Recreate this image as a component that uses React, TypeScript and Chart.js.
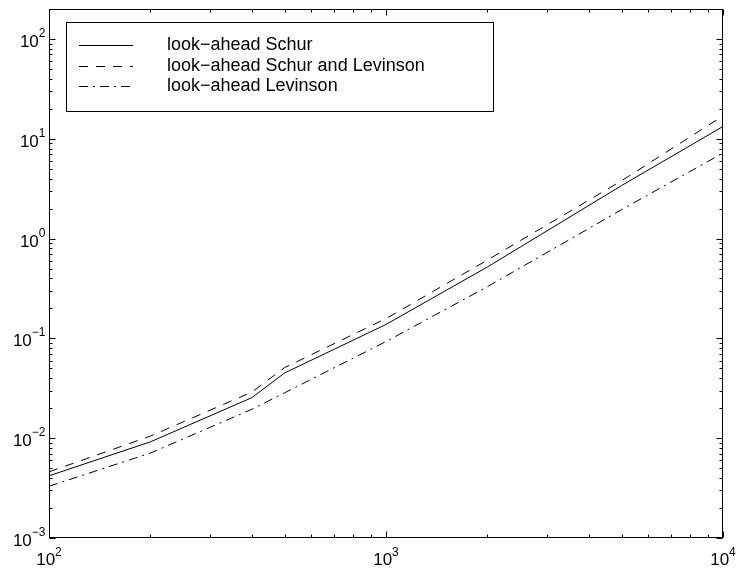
import React, { useEffect, useRef } from "react";
import { Chart, registerables } from "chart.js";

Chart.register(...registerables);

const sizes = [100, 200, 400, 500, 1000, 2000, 5000, 10000];
const schur = [0.0042, 0.0092, 0.0255, 0.045, 0.138, 0.52, 3.4, 13.3];
const schurLevinson = [0.0046, 0.0105, 0.029, 0.051, 0.158, 0.61, 3.8, 17];
const levinson = [0.0033, 0.0071, 0.0195, 0.0285, 0.093, 0.33, 1.95, 7.2];
const seriesNames = ["look\u2212ahead Schur", "look\u2212ahead Schur and Levinson", "look\u2212ahead Levinson"];
const xDecades = [2, 3, 4];
const yDecades = [-3, -2, -1, 0, 1, 2];

const FONT = '"Liberation Sans", Arial, Helvetica, sans-serif';

const matlabPlugin = {
  id: "matlabAxes",
  afterDraw(chart: any) {
    const ctx = chart.ctx as CanvasRenderingContext2D;
    const area = chart.chartArea;
    const xs = chart.scales.x;
    const ys = chart.scales.y;
    const L = Math.round(area.left) + 0.5;
    const R = Math.round(area.right) - 0.5;
    const T = Math.round(area.top) + 0.5;
    const B = Math.round(area.bottom) - 0.5;
    ctx.save();
    ctx.strokeStyle = "#000";
    ctx.lineWidth = 1;
    ctx.setLineDash([]);
    ctx.strokeRect(L, T, R - L, B - T);

    const major = 6;
    const minor = 3;
    ctx.beginPath();
    for (let d = xDecades[0]; d <= xDecades[xDecades.length - 1]; d++) {
      for (let k = 1; k <= 9; k++) {
        const v = k * Math.pow(10, d);
        if (v < xs.min - 1e-9 || v > xs.max + 1e-9) continue;
        const px = Math.round(xs.getPixelForValue(v)) + 0.5;
        const len = k === 1 ? major : minor;
        ctx.moveTo(px, B);
        ctx.lineTo(px, B - len);
        ctx.moveTo(px, T);
        ctx.lineTo(px, T + len);
      }
    }
    for (let d = yDecades[0]; d <= yDecades[yDecades.length - 1]; d++) {
      for (let k = 1; k <= 9; k++) {
        const v = k * Math.pow(10, d);
        if (v < ys.min * 0.9999 || v > ys.max * 1.0001) continue;
        const py = Math.round(ys.getPixelForValue(v)) + 0.5;
        const len = k === 1 ? major : minor;
        ctx.moveTo(L, py);
        ctx.lineTo(L + len, py);
        ctx.moveTo(R, py);
        ctx.lineTo(R - len, py);
      }
    }
    ctx.stroke();

    ctx.fillStyle = "#000";
    ctx.textBaseline = "alphabetic";
    const baseFont = "17px " + FONT;
    const supFont = "12px " + FONT;
    const legendFont = "18px " + FONT;
    const expText = (e: number) => (e < 0 ? "\u2212" + Math.abs(e) : String(e));
    for (const d of xDecades) {
      const px = xs.getPixelForValue(Math.pow(10, d));
      ctx.font = baseFont;
      const w1 = ctx.measureText("10").width;
      ctx.font = supFont;
      const w2 = ctx.measureText(expText(d)).width;
      const start = px - (w1 + w2) / 2;
      ctx.font = baseFont;
      ctx.textAlign = "left";
      ctx.fillText("10", start, B + 27);
      ctx.font = supFont;
      ctx.fillText(expText(d), start + w1, B + 18);
    }
    for (const d of yDecades) {
      const py = ys.getPixelForValue(Math.pow(10, d));
      ctx.font = supFont;
      const w2 = ctx.measureText(expText(d)).width;
      ctx.font = baseFont;
      const w1 = ctx.measureText("10").width;
      const end = L - 4;
      ctx.textAlign = "left";
      ctx.fillText("10", end - w2 - w1, py + 8);
      ctx.font = supFont;
      ctx.fillText(expText(d), end - w2, py - 2);
    }

    const lx0 = 66.5, ly0 = 22.5, lx1 = 493.5, ly1 = 111.5;
    ctx.fillStyle = "#fff";
    ctx.fillRect(lx0, ly0, lx1 - lx0, ly1 - ly0);
    ctx.strokeStyle = "#000";
    ctx.setLineDash([]);
    ctx.strokeRect(lx0, ly0, lx1 - lx0, ly1 - ly0);
    const rows = [45.5, 66.5, 86.5];
    chart.data.datasets.forEach((ds: any, i: number) => {
      const y = rows[i];
      ctx.beginPath();
      ctx.setLineDash(ds.borderDash || []);
      ctx.lineWidth = 1;
      ctx.strokeStyle = "#000";
      ctx.moveTo(79, y);
      ctx.lineTo(133, y);
      ctx.stroke();
      ctx.setLineDash([]);
      ctx.fillStyle = "#000";
      ctx.font = legendFont;
      ctx.textAlign = "left";
      ctx.textBaseline = "middle";
      ctx.fillText(ds.label, 167, y);
    });
    ctx.restore();
  },
};

export default function App() {
  const ref = useRef<HTMLCanvasElement | null>(null);
  useEffect(() => {
    if (!ref.current) return;
    const mk = (vals: number[]) => sizes.map((x, i) => ({ x, y: vals[i] }));
    const chart = new Chart(ref.current, {
      type: "line",
      data: {
        datasets: [
          { label: seriesNames[0], data: mk(schur), borderColor: "#000", borderWidth: 1, borderDash: [], pointRadius: 0, fill: false, tension: 0 },
          { label: seriesNames[1], data: mk(schurLevinson), borderColor: "#000", borderWidth: 1, borderDash: [9, 8], pointRadius: 0, fill: false, tension: 0 },
          { label: seriesNames[2], data: mk(levinson), borderColor: "#000", borderWidth: 1, borderDash: [9, 5, 2, 5], pointRadius: 0, fill: false, tension: 0 },
        ],
      },
      options: {
        animation: false,
        responsive: false,
        events: [],
        layout: { padding: { left: 49, top: 9, right: 13, bottom: 30 } },
        plugins: { legend: { display: false }, tooltip: { enabled: false } },
        scales: {
          x: { type: "logarithmic", min: 100, max: 10000, display: false },
          y: { type: "logarithmic", min: 0.001, max: 200, display: false },
        },
      },
      plugins: [matlabPlugin],
    });
    return () => chart.destroy();
  }, []);
  return (
    <div style={{ position: "fixed", left: 0, top: 0, width: 736, height: 568, background: "#fff" }}>
      <canvas ref={ref} width={736} height={568} style={{ width: 736, height: 568, display: "block" }} />
    </div>
  );
}
